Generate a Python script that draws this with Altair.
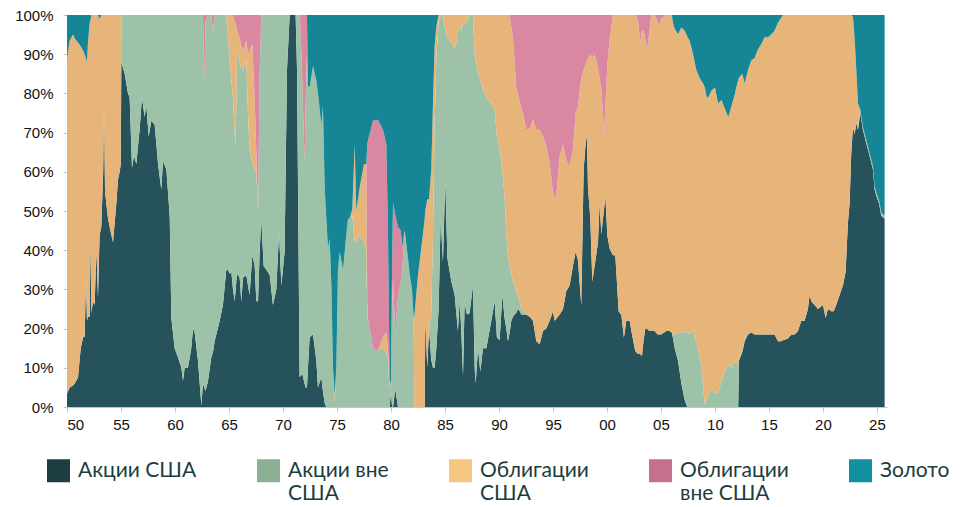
import altair as alt
import pandas as pd

# ---- data (shares, % of portfolio) ----
years = (
    [1950.0, 1950.25, 1950.56, 1950.71, 1951.02, 1951.27, 1951.48, 1951.64, 1951.75, 1951.85, 1951.94, 1952.1, 1952.19, 1952.25, 1952.41, 1952.56, 1952.72, 1952.87, 1953.02, 1953.18, 1953.35, 1953.43, 1953.52, 1953.64, 1953.8, 1954.1, 1954.26, 1954.57, 1954.72, 1954.88, 1954.98]
    + [1955.03, 1955.34, 1955.65, 1955.8, 1956.02, 1956.2, 1956.42, 1956.73, 1956.94, 1957.19, 1957.35, 1957.56, 1957.81, 1958.12, 1958.43, 1958.73, 1958.89, 1959.2, 1959.51, 1959.66, 1959.97, 1960.28, 1960.59, 1960.74, 1960.9, 1961.2, 1961.51, 1961.67, 1961.82, 1962.13, 1962.44]
    + [1962.59, 1962.72, 1962.82, 1963.06, 1963.36, 1963.52, 1963.67, 1964.14, 1964.44, 1964.75]
    + [1964.91, 1965.06, 1965.22, 1965.37, 1965.52, 1965.62, 1965.74, 1965.99, 1966.14, 1966.3, 1966.6, 1966.76, 1966.91, 1967.16, 1967.38, 1967.53, 1967.69, 1967.84, 1967.99]
    + [1968.21, 1968.46, 1968.77, 1969.07, 1969.38, 1969.63, 1969.85, 1970.15, 1970.37, 1970.62, 1971.17, 1971.3, 1971.54]
    + [1971.64, 1971.79, 1972.0, 1972.1, 1972.22, 1972.31, 1972.47, 1972.78, 1973.09, 1973.24, 1973.55, 1973.7, 1973.86, 1974.01]
    + [1974.17, 1974.32, 1974.48, 1974.63, 1974.78, 1974.94, 1975.09, 1975.25, 1975.56, 1975.86, 1976.02, 1976.17, 1976.42, 1976.64, 1976.79, 1977.1, 1977.5, 1977.72]
    + [1977.8, 1977.87, 1978.33, 1978.8, 1979.26, 1979.57, 1979.72, 1979.88, 1980.0, 1980.1, 1980.19, 1980.4, 1980.65, 1980.9, 1981.05, 1981.27, 1981.57, 1981.73, 1981.94, 1982.1]
    + [1982.16, 1982.5, 1982.8, 1983.12, 1983.18, 1983.36, 1983.52, 1983.73, 1983.89, 1984.04, 1984.2, 1984.41]
    + [1984.6, 1984.81, 1985.03, 1985.22, 1985.59, 1985.9, 1986.2, 1986.36, 1986.5, 1986.67, 1986.82, 1986.98, 1987.13, 1987.28, 1987.59, 1987.75, 1987.84]
    + [1988.06, 1988.27, 1988.52, 1988.83, 1989.29, 1989.6, 1989.81, 1990.06, 1990.31, 1990.52, 1990.68, 1990.83, 1990.99]
    + [1991.14, 1991.3, 1991.45, 1991.6, 1991.76, 1991.91, 1992.07, 1992.22, 1992.53, 1992.84, 1993.15, 1993.46, 1993.77, 1994.07, 1994.38, 1994.69, 1995.0, 1995.15, 1995.31, 1995.62, 1995.93, 1996.23, 1996.54, 1996.85, 1997.1, 1997.31, 1997.62, 1997.84, 1998.02, 1998.15, 1998.24, 1998.46, 1998.64, 1998.86, 1999.17, 1999.32, 1999.48, 1999.63, 1999.75, 1999.85, 2000.03, 2000.25]
    + [2000.56, 2000.77, 2000.9, 2001.08, 2001.33, 2001.57, 2001.79, 2002.1, 2002.32, 2002.62, 2002.87, 2003.08, 2003.24, 2003.39, 2003.55, 2003.7, 2003.9, 2004.1, 2004.4, 2004.7, 2004.85, 2005.0, 2005.5, 2005.8, 2006.0]
    + [2006.15, 2006.27, 2006.58, 2006.89, 2007.2, 2007.44, 2007.66, 2007.97, 2008.12, 2008.27, 2008.43, 2008.58, 2008.8, 2008.9, 2009.07, 2009.23, 2009.38, 2009.7, 2010.0, 2010.3, 2010.6, 2010.93, 2011.24, 2011.55, 2011.85, 2011.98, 2012.15]
    + [2012.22, 2012.53, 2012.75, 2013.06, 2013.36, 2013.67, 2013.98, 2014.29, 2014.6, 2014.91, 2015.22, 2015.52, 2015.83, 2016.14, 2016.3, 2016.76, 2017.07, 2017.38, 2017.69, 2017.99, 2018.3, 2018.61, 2018.77, 2018.92, 2019.23, 2019.54, 2020.0, 2020.25, 2020.46, 2020.77, 2020.99, 2021.23, 2021.54, 2021.85, 2022.1, 2022.31, 2022.47, 2022.62]
    + [2022.78, 2022.93, 2023.09, 2023.24, 2023.46, 2023.7, 2024.01, 2024.32, 2024.63, 2024.78, 2024.94, 2025.19, 2025.4, 2025.71]
)

us_stocks = (
    [3.4, 5, 5.5, 6, 7.5, 15, 17.7, 18, 33, 22, 23, 23, 44, 24, 27, 26, 40, 28, 44, 46, 60, 77, 55, 52, 48, 44, 42, 52, 58, 60, 62]
    + [88, 85, 80, 79, 61, 64, 62, 71, 79, 74, 77, 69, 73, 72, 62, 55.5, 62.7, 60.6, 48.8, 22.7, 15, 12.6, 10, 6.7, 10, 10, 15, 20, 19, 11.8, 0.5]
    + [6, 5, 4, 6.7, 12.6, 14, 16.8, 22, 26, 35]
    + [35, 34, 34.5, 30, 27, 30, 34, 33, 27, 33, 33.7, 31, 28.6, 38.7, 36, 27, 27, 39.6, 48]
    + [36, 35, 33.7, 26, 30, 44.6, 31, 39.6, 86, 100, 100, 86, 7.6]
    + [8, 8.4, 6, 5, 5, 10, 17.7, 18.5, 11.8, 5, 7.6, 4, 1, 0]
    + [0] * 18
    + [0, 0, 0, 0, 0, 0, 0, 0, 4, 0, 0, 4.6, 0, 0, 0, 0, 0, 0, 0, 0]
    + [0, 0, 0, 0, 22.7, 10, 20, 12, 10, 10, 15, 25]
    + [48, 37, 58, 38, 32, 28.6, 19.4, 27, 20, 8, 27, 24, 23.6, 24, 31, 10, 6]
    + [15, 9, 15, 15, 22, 27, 17.7, 17, 28.6, 22.7, 20, 16.8, 19]
    + [22, 23, 23.6, 24, 25, 24.5, 23.6, 23.6, 23.6, 23, 22, 16.8, 16, 19.4, 20, 22, 24.4, 22, 22.5, 23.6, 25, 29.5, 31, 36, 39.6, 37.5, 26, 60.6, 67, 69.4, 56, 48, 32, 36, 42, 52, 44, 48, 51, 54, 43.8, 40.4]
    + [38.7, 38.7, 33, 24.4, 23.5, 17.7, 22, 22, 18.5, 14.3, 13.5, 13.5, 13, 17, 20, 20, 19.4, 19.4, 19.4, 18.5, 18.5, 18.5, 19.4, 19.4, 19]
    + [17, 15, 11.8, 6, 1.7] + [0] * 22
    + [11.8, 14, 16.8, 18.5, 19, 18.5, 18.5, 18.5, 18.5, 18.5, 18.5, 18.5, 16.8, 16.8, 17, 17.5, 18.5, 18.5, 19.4, 22, 22, 25, 28.6, 27, 26, 25, 26, 22.7, 25, 24.4, 24.4, 26, 28.6, 31, 34.5, 47, 52, 64.8]
    + [71.5, 69.5, 72.4, 70.7, 75, 70.7, 67.3, 64, 60.6, 55.5, 53.9, 52, 48.8, 48]
)

intl_stocks = (
    [0] * 31
    + [12, 15, 20, 21, 39, 36, 38, 29, 21, 26, 23, 31, 27, 28, 38, 44.5, 37.3, 39.4, 51.2, 77.3, 85, 87.4, 90, 93.3, 90, 90, 85, 80, 81, 88.2, 99.5]
    + [94, 78, 94, 93.3, 87.4, 82, 83.2, 78, 74, 65]
    + [59.3, 54.4, 48.8, 49, 43, 36.5, 57, 55, 59, 52.9, 54.7, 44, 37.1, 23.6, 24.6, 32.8, 23, 45.4, 52]
    + [64, 65, 66.3, 74, 70, 55.4, 69, 60.4, 14, 0, 0, 14, 92.4]
    + [87, 74.6, 56.3, 73, 85, 72, 63.9, 68.5, 71.4, 75, 64.4, 72.6, 55, 48]
    + [40.4, 43, 31, 10, 1, 10, 35, 39.6, 35, 43.8, 48, 48, 48.8, 42, 42, 44, 42, 40]
    + [22, 22.7, 15, 14.3, 15, 14, 12, 5, 2, 25, 32.8, 14, 28, 32, 35, 45, 38, 34, 30, 23]
    + [0, 0, 0, 0, 0, 0, 0, 11.8, 33.6, 62, 74, 73]
    + [52, 63, 38, 56, 61, 62.4, 76, 70, 76, 90, 71, 74, 75.4, 76, 69, 80, 83]
    + [70, 74.5, 66, 64, 55.4, 48.8, 51.3, 49, 32, 31.2, 23.8, 21.9, 17]
    + [12, 9, 7.4, 5.5, 3.5, 2.5, 1.5, 1] + [0] * 34
    + [0] * 25
    + [1.5, 3.5, 7.1, 12.9, 17.7, 19, 18.5, 20, 17.7, 16.5, 15, 13, 9, 5, 0.5, 1.5, 2.5, 5, 3.5, 3.5, 6.7, 9, 11, 10, 11.8, 11, 11]
    + [0.5, 0.5, 0.5] + [0] * 35
    + [0, 0, 0, 0.5] + [0.8] * 10
)

us_bonds = (
    [85.6, 88.4, 89.5, 88, 85.5, 77, 73.3, 72, 56, 66, 70, 75, 55, 76, 73, 74, 60, 72, 55, 54, 40, 23, 45, 48, 52, 56, 58, 48, 42, 40, 38]
    + [0] * 31
    + [0] * 10
    + [5.7, 11.6, 16.7, 21, 28, 31.5, 5, 6, 6, 5, 5, 15, 25.3, 30.3, 17.4, 5.2, 0, 0, 0]
    + [0] * 13
    + [0] * 14
    + [0, 0, 0, 0, 2, 0, 0, 0, 0, 0, 0, 0, 1.7, 25, 8, 12, 20, 22]
    + [5, 0, 0, 0, 3, 5, 3, 0, 0, 0, 0, 0, 0, 0, 0, 0, 0, 0, 0, 0]
    + [23, 33.7, 40.4, 48, 27.3, 43, 33, 36.8, 33.8, 20, 8, 2]
    + [0, 0, 4, 6, 7, 9, 4.6, 3, 4, 2, 2, 2, 1, 0, 0, 10, 11]
    + [15, 16.5, 19, 21, 22.6, 24.2, 31, 34, 39.4, 46.1, 56.2, 61.3, 64]
    + [63, 62, 57, 52.1, 51.5, 51, 50.9, 50.4, 47.1, 48, 51.4, 53.9, 54.7, 49.6, 46.5, 40.3, 30.3, 31.5, 31.4, 40.4, 42, 33.5, 30.4, 29.6, 35.4, 39.1, 58, 25.4, 20.5, 18.6, 33, 41.9, 57, 54, 44.5, 32, 37, 27, 18, 23, 43.2, 53.6]
    + [61.3, 61.3, 67, 75.6, 76.5, 82.3, 78, 78, 81.5, 85.7, 85.5, 79.5, 83, 79, 74, 71, 75.6, 80.6, 80.6, 80, 78.5, 80.5, 80.6, 80.6, 81]
    + [79.1, 78, 76.2, 77.9, 76.6, 75.5, 74.9, 70, 70.3, 69.5, 70, 71, 74, 77.5, 81, 77.5, 76.5, 75.8, 78, 73.9, 71.6, 67, 63, 67, 68.2, 70.6, 72.5]
    + [71.7, 70.5, 65.2, 67.5, 69.4, 70.5, 72.7, 74.1, 75.8, 75.8, 76.6, 77.5, 81.2, 82.5, 83, 82.5, 81.5, 81.5, 80.6, 78, 78, 75, 71.4, 73, 74, 75, 74, 77.3, 75, 75.6, 75.6, 74, 71.4, 69, 65.5, 53, 48, 35.2]
    + [28, 24.5, 13.6, 6.2] + [0] * 10
)

intl_bonds = (
    [0] * 31
    + [0] * 31
    + [0, 17, 2, 0, 0, 4, 0, 0, 0, 0]
    + [0, 0, 0, 0, 2, 2, 4, 6, 8, 9.1, 6.6, 10, 9, 7.4, 22, 35, 50, 15, 0]
    + [0] * 13
    + [5, 17, 37.7, 22, 10, 0, 0, 0, 0, 0, 0, 0, 0, 0]
    + [0] * 18
    + [40, 45.3, 58, 59, 52.7, 48, 30, 2, 0, 10, 19.4, 30.3, 18, 13, 6, 0, 0, 0, 0, 0]
    + [0] * 12
    + [0] * 17
    + [0] * 13
    + [3, 6, 12, 18.4, 20, 22, 24, 25, 29.3, 29, 26.6, 29.3, 29.3, 31, 33.5, 37.7, 45.3, 46.5, 46.1, 36, 33, 37, 38.6, 34.4, 25, 23.4, 16, 14, 12.5, 12, 11, 10.1, 11, 10, 13.5, 16, 19, 25, 31, 23, 13, 6]
    + [0, 0, 0, 0, 0, 0, 0, 0, 0, 0, 1, 7, 4, 4, 6, 9, 5, 0, 0, 1.5, 3, 1, 0, 0, 0]
    + [0] * 27
    + [0] * 38
    + [0] * 14
)

gold = (
    [11, 6.6, 5, 6, 7, 8, 9, 10, 11, 12, 7, 2, 1, 0, 0, 0, 0, 0, 1, 0, 0, 0, 0, 0, 0, 0, 0, 0, 0, 0, 0]
    + [0] * 31
    + [0] * 10
    + [0] * 19
    + [0] * 13
    + [0, 0, 0, 0, 0, 18, 18.4, 13, 16.8, 20, 28, 23.4, 44, 52]
    + [59.6, 57, 69, 90, 97, 90, 65, 60.4, 65, 56.2, 52, 52, 49.5, 33, 50, 44, 38, 38]
    + [33, 32, 27, 26.7, 29.3, 33, 55, 93, 94, 65, 47.8, 51.1, 54, 55, 59, 55, 62, 66, 70, 77]
    + [77, 66.3, 59.6, 52, 50, 47, 47, 39.4, 22.6, 8, 3, 0]
    + [0] * 17
    + [0] * 13
    + [0] * 42
    + [0] * 25
    + [2.4, 3.5, 4.9, 3.2, 4, 5.5, 6.6, 10, 12, 14, 15, 16, 17, 17.5, 18.5, 21, 21, 19.2, 18.5, 22.6, 21.7, 24, 26, 23, 20, 18.4, 16.5]
    + [16, 15, 17.5, 14, 11.6, 11, 8.8, 7.4, 5.7, 5.7, 4.9, 4, 2, 0.7] + [0] * 24
    + [0.5, 6, 14, 22.6, 24.2, 28.5, 31.9, 35.2, 38.6, 43.7, 45.3, 47.2, 50.4, 51.2]
)

series_names = ["Акции США", "Акции вне США", "Облигации США", "Облигации вне США", "Золото"]
series_values = [us_stocks, intl_stocks, us_bonds, intl_bonds, gold]
for name, vals in zip(series_names, series_values):
    assert len(vals) == len(years), (name, len(vals), len(years))

area_colors = ["#26525b", "#9ec2a7", "#e7b57a", "#da87a2", "#168696"]
legend_colors = ["#1c3d42", "#8cb093", "#f6c683", "#c5708d", "#13909f"]

rows = []
for i, yr in enumerate(years):
    for k, (name, vals) in enumerate(zip(series_names, series_values)):
        rows.append({"year": yr, "series": name, "order": k, "share": vals[i]})
df = pd.DataFrame(rows)

x_enc = alt.X(
    "year:Q",
    scale=alt.Scale(domain=[1950, 2025.93], nice=False, zero=False),
    axis=alt.Axis(
        values=list(range(1950, 2026, 5)),
        labelExpr="substring(toString(datum.value), 2, 4)",
        title=None, grid=False, tickSize=5, labelPadding=5,
    ),
)
y_enc = alt.Y(
    "share:Q",
    stack="normalize",
    scale=alt.Scale(domain=[0, 1], nice=False),
    axis=alt.Axis(
        values=[i / 10 for i in range(11)], format=".0%",
        title=None, grid=False, tickSize=4, labelPadding=10,
    ),
)

areas = alt.Chart(df).mark_area(interpolate="linear").encode(
    x=x_enc,
    y=y_enc,
    color=alt.Color("series:N", scale=alt.Scale(domain=series_names, range=area_colors), legend=None),
    order=alt.Order("order:Q", sort="ascending"),
)

# every legend label is given two lines so that all first lines sit beside their squares
label_expr = (
    "datum.label == 'Акции вне США' ? ['Акции вне', 'США'] : "
    "datum.label == 'Облигации США' ? ['Облигации', 'США'] : "
    "datum.label == 'Облигации вне США' ? ['Облигации', 'вне США'] : [datum.label, ' ']"
)

legend_df = pd.DataFrame({"series": series_names})
legend_layer = alt.Chart(legend_df).mark_square(opacity=0).encode(
    fill=alt.Fill(
        "series:N",
        scale=alt.Scale(domain=series_names, range=legend_colors),
        legend=alt.Legend(
            orient="none", legendX=-20, legendY=444, direction="horizontal",
            title=None, symbolType="square", symbolSize=529, symbolStrokeWidth=0,
            symbolOpacity=1, labelFont="Lato", labelFontSize=21, labelColor="#1d3c40",
            labelOffset=8, columnPadding=60, labelLimit=300, labelExpr=label_expr,
            padding=0, labelBaseline="middle",
        ),
    )
)

chart = alt.layer(areas, legend_layer).resolve_scale(color="independent").properties(
    width=820, height=392,
    autosize=alt.AutoSizeParams(type="none"),
    padding={"left": 59, "top": 7, "right": 68, "bottom": 100},
).configure_view(stroke=None).configure_axis(
    domainColor="#c4c4c4", tickColor="#c4c4c4", labelFont="Liberation Sans",
    labelFontSize=15, labelColor="#111111", zindex=1,
)

chart.save("out.html", embed_options={"renderer": "svg", "actions": False})
